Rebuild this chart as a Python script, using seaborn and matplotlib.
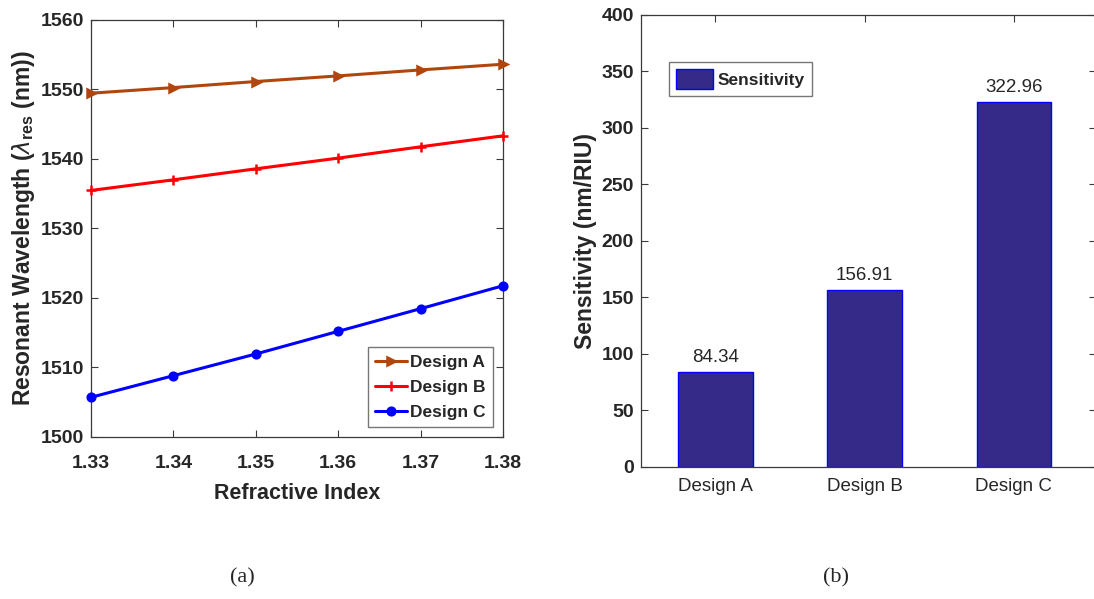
import matplotlib
matplotlib.use("Agg")
import matplotlib.pyplot as plt
import seaborn as sns
import pandas as pd

# Resonant wavelength vs refractive index for three sensor designs
refractive_index = [1.33, 1.34, 1.35, 1.36, 1.37, 1.38]
design_a = [1549.46, 1550.27, 1551.14, 1551.95, 1552.81, 1553.63]
design_b = [1535.47, 1537.00, 1538.58, 1540.12, 1541.75, 1543.33]
design_c = [1505.71, 1508.82, 1511.94, 1515.20, 1518.46, 1521.76]

# Sensitivity of each design
designs = ["Design A", "Design B", "Design C"]
sensitivity = [84.34, 156.91, 322.96]

sns.set_style("ticks")
plt.rcParams["font.family"] = ["Liberation Sans", "DejaVu Sans"]
plt.rcParams["mathtext.fontset"] = "custom"
plt.rcParams["mathtext.rm"] = "Liberation Sans"
plt.rcParams["mathtext.bf"] = "Liberation Sans:bold"

spine_col = "#3a3a3a"

fig = plt.figure(figsize=(10.94, 5.99), dpi=100)
ax1 = fig.add_axes([0.0832, 0.2705, 0.3766, 0.6962])
ax2 = fig.add_axes([0.5859, 0.2204, 0.4159, 0.7546])

# ---- (a) line chart ----
series = [
    ("Design A", design_a, "#B0460E", ">", 5.5),
    ("Design B", design_b, "#FF0000", "+", 7),
    ("Design C", design_c, "#0000FF", "o", 5.5),
]
for name, vals, col, mk, ms in series:
    df = pd.DataFrame({"n": refractive_index, "wl": vals})
    sns.lineplot(data=df, x="n", y="wl", ax=ax1, color=col, marker=mk,
                 markersize=ms, markeredgewidth=1.8, markerfacecolor=col,
                 markeredgecolor=col, linewidth=2.2, label=name,
                 clip_on=False, zorder=3)

ax1.set_xlim(1.33, 1.38)
ax1.set_ylim(1500, 1560)
ax1.set_xticks(refractive_index)
ax1.set_xticklabels(["1.33", "1.34", "1.35", "1.36", "1.37", "1.38"])
ax1.set_yticks([1500, 1510, 1520, 1530, 1540, 1550, 1560])
ax1.set_xlabel("Refractive Index", fontsize=15.5, fontweight="bold", labelpad=8)
ax1.set_ylabel(r"Resonant Wavelength ($\lambda_{\mathbf{res}}$ (nm))",
               fontsize=16.5, fontweight="bold", labelpad=3)
leg1 = ax1.legend(loc="lower right", prop={"weight": "bold", "size": 12.5},
                  frameon=True, fancybox=False, edgecolor="#555555",
                  handlelength=1.8, handletextpad=0.2, borderpad=0.45,
                  labelspacing=0.55, borderaxespad=0.55)
leg1.get_frame().set_linewidth(1.0)

# ---- (b) bar chart ----
bar_df = pd.DataFrame({"design": designs, "sens": sensitivity})
sns.barplot(data=bar_df, x="design", y="sens", ax=ax2, color="#352A87",
            saturation=1, width=0.5, edgecolor="#0000FF", linewidth=1.0,
            label="Sensitivity")
for i, v in enumerate(sensitivity):
    ax2.text(i, v + 5, f"{v:.2f}", ha="center", va="bottom", fontsize=13.5)

ax2.set_xlim(-0.497, 2.55)
ax2.set_ylim(0, 400)
ax2.set_yticks(range(0, 401, 50))
ax2.set_xlabel("")
ax2.set_ylabel("Sensitivity (nm/RIU)", fontsize=16.5, fontweight="bold", labelpad=3)
leg2 = ax2.legend(loc="upper left", bbox_to_anchor=(0.062, 0.895),
                  prop={"weight": "bold", "size": 12.5}, frameon=True,
                  fancybox=False, edgecolor="#555555", handlelength=2.1,
                  handleheight=1.4, handletextpad=0.3, borderpad=0.4,
                  borderaxespad=0)
leg2.get_frame().set_linewidth(1.0)

for ax in (ax1, ax2):
    for sp in ax.spines.values():
        sp.set_visible(True)
        sp.set_color(spine_col)
        sp.set_linewidth(0.9)
    ax.tick_params(direction="in", length=5, width=0.8, color=spine_col,
                   top=True, right=True, pad=5)
    ax.set_facecolor("white")

for lbl in ax1.get_xticklabels() + ax1.get_yticklabels() + ax2.get_yticklabels():
    lbl.set_fontweight("bold")
    lbl.set_fontsize(14)
for lbl in ax2.get_xticklabels():
    lbl.set_fontweight("normal")
    lbl.set_fontsize(13.5)
ax1.tick_params(axis="x", pad=13)
ax2.tick_params(axis="x", pad=8)

fig.text(0.222, 0.035, "(a)", family="Liberation Serif", fontsize=16,
         ha="center", va="center")
fig.text(0.764, 0.035, "(b)", family="Liberation Serif", fontsize=16,
         ha="center", va="center")

fig.savefig("out.png", dpi=100, facecolor="white")
